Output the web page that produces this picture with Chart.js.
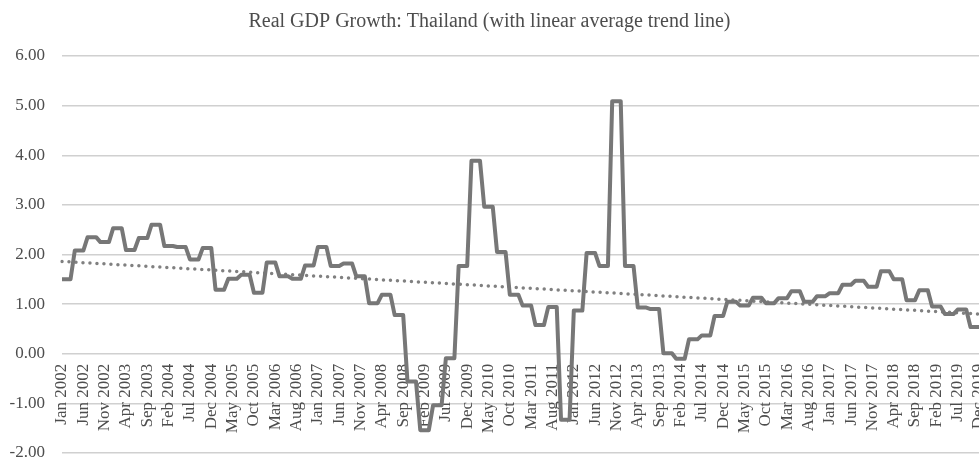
<!DOCTYPE html>
<html>
<head>
<meta charset="utf-8">
<script src="https://cdn.jsdelivr.net/npm/chart.js@4"></script>
<style>
  html, body { margin: 0; padding: 0; background: #fff; }
  #wrap { width: 979px; height: 460px; }
</style>
</head>
<body>
<div id="wrap"><canvas id="gdpChart"></canvas></div>
<script>
// Quarterly real GDP growth (%), each quarter held flat for its three months
const gdpQuarterly = [
    1.50, 2.08, 2.35, 2.25,   // 2002
    2.53, 2.09, 2.33, 2.60,   // 2003
    2.17, 2.15, 1.90, 2.13,   // 2004
    1.29, 1.51, 1.59, 1.23,   // 2005
    1.84, 1.56, 1.51, 1.78,   // 2006
    2.15, 1.77, 1.82, 1.56,   // 2007
    1.02, 1.19, 0.78, -0.56,  // 2008
    -1.54, -1.04, -0.09, 1.77, // 2009
    3.89, 2.96, 2.05, 1.19,   // 2010
    0.97, 0.58, 0.94, -1.33,  // 2011
    0.87, 2.03, 1.77, 5.09,   // 2012
    1.77, 0.93, 0.90, 0.01,   // 2013
    -0.10, 0.29, 0.37, 0.76,  // 2014
    1.05, 0.97, 1.13, 1.02,   // 2015
    1.12, 1.26, 1.05, 1.16,   // 2016
    1.22, 1.39, 1.47, 1.35,   // 2017
    1.66, 1.50, 1.08, 1.28,   // 2018
    0.95, 0.80, 0.89, 0.54    // 2019
];
const monthNames = ['Jan', 'Feb', 'Mar', 'Apr', 'May', 'Jun', 'Jul', 'Aug', 'Sep', 'Oct', 'Nov', 'Dec'];
const firstYear = 2002;
const lastYear = 2019;

// linear average trend line, read at its two ends
const trendStart = 1.86;
const trendEnd = 0.80;

const labels = [];
for (let y = firstYear; y <= lastYear; y++) {
    monthNames.forEach(m => labels.push(m + ' ' + y));
}
const monthly = gdpQuarterly.flatMap(v => [v, v, v]);

const textColor = '#4d4d4d';
const serif = '"Liberation Serif", "Times New Roman", serif';

new Chart('gdpChart', {
    type: 'line',
    data: {
        labels: labels,
        datasets: [
            {
                label: 'Real GDP Growth',
                data: monthly,
                borderColor: '#777777',
                borderWidth: 4,
                pointRadius: 0,
                tension: 0,
                borderJoinStyle: 'round'
            },
            {
                label: 'Linear trend',
                data: [
                    { x: labels[0], y: trendStart },
                    { x: labels[labels.length - 1], y: trendEnd }
                ],
                borderColor: '#808080',
                borderWidth: 3.5,
                borderDash: [0, 7],
                borderCapStyle: 'round',
                pointRadius: 0
            }
        ]
    },
    options: {
        responsive: true,
        maintainAspectRatio: false,
        animation: false,
        layout: { padding: { left: 0, right: 0, top: 0, bottom: 7 } },
        plugins: {
            legend: { display: false },
            tooltip: { enabled: false },
            title: {
                display: true,
                text: 'Real GDP Growth: Thailand (with linear average trend line)',
                color: textColor,
                font: { family: serif, size: 20, weight: 'normal' },
                padding: { top: 10, bottom: 22 }
            }
        },
        scales: {
            x: {
                position: { y: 0 },
                grid: { display: false, drawTicks: false },
                border: { display: false },
                ticks: {
                    autoSkip: false,
                    minRotation: 90,
                    maxRotation: 90,
                    padding: 10,
                    color: textColor,
                    font: { family: serif, size: 17 },
                    callback: function (val, i) {
                        return i % 5 === 0 ? labels[i] : null;
                    }
                },
                afterFit: s => { s.paddingLeft = 0; s.paddingRight = 0; }
            },
            y: {
                min: -2,
                max: 6,
                grid: { color: '#d0d0d0', lineWidth: 1.5, drawTicks: false },
                border: { display: false },
                ticks: {
                    stepSize: 1,
                    padding: 17,
                    color: textColor,
                    font: { family: serif, size: 17 },
                    callback: v => v.toFixed(2)
                },
                afterFit: s => { s.width = 62; s.paddingTop = 0; s.paddingBottom = 0; }
            }
        }
    }
});
</script>
</body>
</html>
